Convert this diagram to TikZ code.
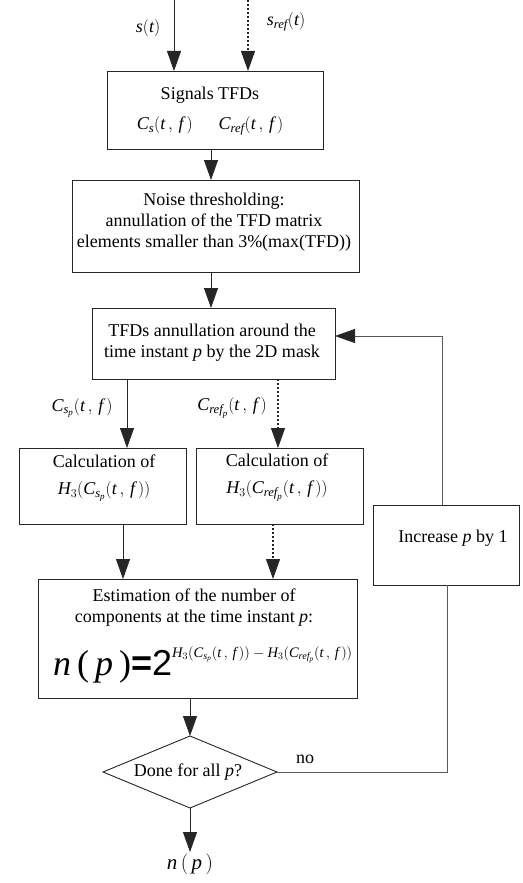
\documentclass[tikz,border=0pt]{standalone}
\usepackage{amsmath}
\usepackage{fontspec}
\setmainfont{Liberation Serif}
\newfontfamily\sansfam{Liberation Sans}
\usetikzlibrary{arrows.meta,shapes.geometric}
\newcommand\mi[1]{\textit{#1}}
\newcommand\tfarg{(\mi{t}\,,\,\mi{f}\,)}
\newcommand\Cs{\mi{C}_{\mi{s}}}
\newcommand\Cref{\mi{C}_{\mi{ref}}}
\newcommand\Csp{\mi{C}_{\mi{s}_{\mi{p}}}}
\newcommand\Crefp{\mi{C}_{\mi{ref}_{\mi{p}}}}
\begin{document}
\begin{tikzpicture}[x=1pt,y=-1pt,
  box/.style={draw=black!85, line width=0.9pt, rectangle, inner sep=0pt, outer sep=0pt},
  txt/.style={align=center, inner sep=0pt, font=\fontsize{18}{21}\selectfont},
  ln/.style={draw=black!85, line width=0.9pt},
  lp/.style={draw=black!65, line width=0.9pt},
  tip/.style={-{Triangle[length=20pt,width=14pt,color=black!85]}},
  arr/.style={ln, tip},
  dots/.style={dash pattern=on 2pt off 2pt, line width=1.2pt}]
\useasboundingbox (0,0) rectangle (522,883);
% boxes
\node[box, minimum width=216pt, minimum height=78pt] (b1) at (215,110) {};
\node[box, minimum width=287pt, minimum height=92pt] (b2) at (215.5,226) {};
\node[box, minimum width=243pt, minimum height=71pt] (b3) at (213.5,343.5) {};
\node[box, minimum width=167pt, minimum height=76pt] (b4) at (102.5,486) {};
\node[box, minimum width=167pt, minimum height=76pt] (b5) at (279.5,486) {};
\node[box, minimum width=146pt, minimum height=80pt] (inc) at (446,545) {};
\node[box, minimum width=319pt, minimum height=119pt] (b6) at (197.5,638.5) {};
\node[draw=black!85, line width=0.9pt, diamond, minimum width=174pt, minimum height=72pt, inner sep=0pt, outer sep=0pt] (dia) at (190,772) {};
% texts
\node[txt] (t1) at (210,111) {Signals TFDs\\[9pt] $\Cs\tfarg$\hspace{26pt}$\Cref\tfarg$};
\node[txt] (t2) at (214,222) {Noise thresholding:\\ annullation of the TFD matrix\\ elements smaller than 3\%(max(TFD))};
\node[txt] (t3) at (212,343) {TFDs annullation around the\\ time instant \mi{p} by the 2D mask};
\node[txt] (t4) at (104,478) {Calculation of\\[6pt] $\mi{H}_3(\Csp\tfarg)$};
\node[txt] (t5) at (277,478) {Calculation of\\[6pt] $\mi{H}_3(\Crefp\tfarg)$};
\node[txt] (tinc) at (453,538) {Increase \mi{p} by 1};
\node[txt] (t6) at (194,607.5) {Estimation of the number of\\ components at the time instant \mi{p}:};
\node[anchor=base west, inner sep=0pt] (f6) at (53,675) {{\fontsize{36}{40}\selectfont\mi{n}\,(\,\mi{p}\,)\sansfam\textbf{=}2}\raisebox{18pt}{\fontsize{14.5}{16}\selectfont $\mi{H}_3(\Csp\tfarg)-\mi{H}_3(\Crefp\tfarg)$}};
\node[txt] (tdia) at (188,772) {Done for all \mi{p}?};
\node[txt] (tno) at (305,759) {no};
\node[txt] (lsp) at (82,408) {$\Csp\tfarg$};
\node[txt] (lrp) at (232,408) {$\Crefp\tfarg$};
\node[txt] (ls) at (148,28) {$\mi{s}(\mi{t})$};
\node[txt] (lsr) at (286,22) {$\mi{s}_{\mi{ref}}(\mi{t})$};
\node[txt, anchor=north, inner sep=2pt, font=\fontsize{21}{24}\selectfont] (np) at (190,852) {$\mi{n}\,(\,\mi{p}\,)$};
% inputs
\coordinate (sIn) at (174,0);
\coordinate (srIn) at (248,0);
\draw[arr] (sIn) -- (sIn |- b1.north);
\draw[arr,dots] (srIn) -- (srIn |- b1.north);
% connectors
\draw[arr] ([xshift=-4pt]b1.south) -- ([xshift=-4pt]b1.south |- b2.north);
\draw[arr] ([xshift=-4.5pt]b2.south) -- ([xshift=-4.5pt]b2.south |- b3.north);
\draw[arr] ([xshift=-86.5pt]b3.south) -- ([xshift=-86.5pt]b3.south |- b4.north);
\draw[arr,dots] ([xshift=64.5pt]b3.south) -- ([xshift=64.5pt]b3.south |- b5.north);
\draw[arr] ([xshift=20.5pt]b4.south) -- ([xshift=20.5pt]b4.south |- b6.north);
\draw[arr,dots] ([xshift=-6.5pt]b5.south) -- ([xshift=-6.5pt]b5.south |- b6.north);
\draw[arr] (b6.south -| dia.north) -- (dia.north);
\draw[arr] (dia.south) -- (np.north);
% loop
\coordinate (incB) at ([xshift=1pt]inc.south);
\draw[lp] (dia.east) -- (dia.east -| incB) -- (incB);
\draw[lp, tip] ([xshift=-4pt]inc.north) |- ([yshift=7.5pt]b3.east);
\end{tikzpicture}
\end{document}
